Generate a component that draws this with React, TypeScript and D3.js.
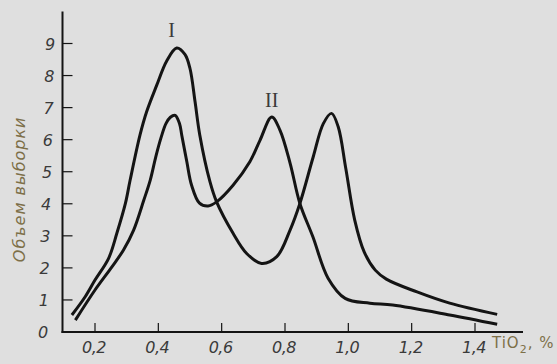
import { useRef, useEffect } from 'react';
import * as d3 from 'd3';

// TiO2 content (%) vs sample size, two curves
const curveI: [number, number][] = [
  [0.127, 0.53], [0.169, 1.1], [0.2, 1.62], [0.243, 2.3], [0.269, 3.08],
  [0.296, 4.01], [0.311, 4.74], [0.342, 6.14], [0.363, 6.87], [0.395, 7.7],
  [0.426, 8.45], [0.458, 8.86], [0.484, 8.66], [0.5, 8.22], [0.516, 7.18],
  [0.531, 6.14], [0.563, 4.69], [0.584, 4.06], [0.636, 3.08], [0.679, 2.45],
  [0.726, 2.14], [0.774, 2.35], [0.816, 3.18], [0.847, 4.01], [0.889, 5.46],
  [0.921, 6.5], [0.947, 6.82], [0.968, 6.4], [0.992, 5.1], [1.02, 3.5],
  [1.05, 2.5], [1.085, 1.93], [1.12, 1.65], [1.217, 1.25], [1.32, 0.9],
  [1.47, 0.55],
];

const curveII: [number, number][] = [
  [0.138, 0.37], [0.2, 1.31], [0.254, 2.04], [0.29, 2.56], [0.322, 3.18],
  [0.354, 4.11], [0.3745, 4.74], [0.3925, 5.49], [0.41, 6.11], [0.424, 6.5],
  [0.438, 6.7], [0.453, 6.76], [0.467, 6.5], [0.474, 6.14], [0.49, 5.31],
  [0.505, 4.58], [0.53, 4.02], [0.557, 3.93], [0.584, 4.06], [0.636, 4.58],
  [0.689, 5.31], [0.721, 5.98], [0.758, 6.71], [0.784, 6.3], [0.816, 5.27],
  [0.847, 4.01], [0.888, 2.97], [0.936, 1.68], [0.99, 1.05], [1.068, 0.9],
  [1.14, 0.84], [1.32, 0.53], [1.47, 0.24],
];

const xTicks = [0.2, 0.4, 0.6, 0.8, 1.0, 1.2, 1.4];
const yTicks = [0, 1, 2, 3, 4, 5, 6, 7, 8, 9];
const curveLabels: { text: string; x: number; y: number }[] = [
  { text: 'I', x: 0.442, y: 9.2 },
  { text: 'II', x: 0.758, y: 7.02 },
];
const yTitle = 'Объем выборки';

const W = 557;
const H = 364;
const BG = '#dfdfdf';
const INK = '#141414';
const TXT = '#3a3a3a';
const BROWN = '#7d6f48';

export default function App() {
  const svgRef = useRef<SVGSVGElement>(null);

  useEffect(() => {
    document.body.style.margin = '0';
    const svg = d3.select(svgRef.current);
    svg.selectAll('*').remove();

    const x = d3.scaleLinear().domain([0.2, 1.4]).range([95, 475]);
    const y = d3.scaleLinear().domain([0, 9]).range([332, 43.5]);

    svg.append('rect').attr('width', W).attr('height', H).attr('fill', BG);

    // axes
    const x0 = x.invert(62.5);
    const x1 = x.invert(523);
    svg
      .append('line')
      .attr('x1', x(x0))
      .attr('x2', x(x0))
      .attr('y1', y(0) + 1)
      .attr('y2', y(10))
      .attr('stroke', INK)
      .attr('stroke-width', 2);
    svg
      .append('line')
      .attr('x1', x(x0) - 1)
      .attr('x2', x(x1))
      .attr('y1', y(0))
      .attr('y2', y(0))
      .attr('stroke', INK)
      .attr('stroke-width', 2);

    const font = '"DejaVu Sans", "Liberation Sans", sans-serif';

    // y ticks + labels
    yTicks.forEach((t) => {
      if (t > 0) {
        svg
          .append('line')
          .attr('x1', x(x0))
          .attr('x2', x(x0) + 10)
          .attr('y1', y(t))
          .attr('y2', y(t))
          .attr('stroke', INK)
          .attr('stroke-width', 1.2);
      }
      svg
        .append('text')
        .attr('x', 43 + t * 0.8)
        .attr('y', y(t) + 6)
        .attr('text-anchor', 'middle')
        .attr('fill', TXT)
        .attr('font-family', font)
        .attr('font-style', 'italic')
        .attr('font-size', 16)
        .text(String(t));
    });

    // x ticks + labels
    xTicks.forEach((t) => {
      svg
        .append('line')
        .attr('x1', x(t))
        .attr('x2', x(t))
        .attr('y1', y(0))
        .attr('y2', y(0) - 9)
        .attr('stroke', INK)
        .attr('stroke-width', 1.2);
      svg
        .append('text')
        .attr('x', x(t) - 1)
        .attr('y', 353)
        .attr('text-anchor', 'middle')
        .attr('fill', TXT)
        .attr('font-family', font)
        .attr('font-style', 'italic')
        .attr('font-size', 16)
        .attr('letter-spacing', -0.5)
        .text(t.toFixed(1).replace('.', ','));
    });

    // x axis title
    const xt = svg
      .append('text')
      .attr('x', 492)
      .attr('y', 348)
      .attr('fill', BROWN)
      .attr('font-family', font)
      .attr('font-size', 15)
      .attr('letter-spacing', 1);
    xt.append('tspan').text('TiO');
    xt.append('tspan').attr('font-size', 11).attr('dy', 5).text('2');
    xt.append('tspan').attr('dy', -5).text(', %');

    // y axis title
    svg
      .append('text')
      .attr('transform', `translate(25, ${y(4.45)}) rotate(-90)`)
      .attr('text-anchor', 'middle')
      .attr('fill', BROWN)
      .attr('font-family', font)
      .attr('font-style', 'italic')
      .attr('font-size', 16)
      .attr('letter-spacing', 1)
      .text(yTitle);

    // curves
    const line = d3
      .line<[number, number]>()
      .x((d) => x(d[0]))
      .y((d) => y(d[1]))
      .curve(d3.curveCatmullRom.alpha(0.5));

    [curveI, curveII].forEach((c) => {
      svg
        .append('path')
        .attr('d', line(c))
        .attr('fill', 'none')
        .attr('stroke', INK)
        .attr('stroke-width', 3)
        .attr('stroke-linejoin', 'round');
    });

    curveLabels.forEach((l) => {
      svg
        .append('text')
        .attr('x', x(l.x))
        .attr('y', y(l.y))
        .attr('text-anchor', 'middle')
        .attr('fill', TXT)
        .attr('font-family', '"Liberation Serif", "DejaVu Serif", serif')
        .attr('font-size', 20)
        .text(l.text);
    });
  }, []);

  return <svg ref={svgRef} width={W} height={H} style={{ display: 'block' }} />;
}
